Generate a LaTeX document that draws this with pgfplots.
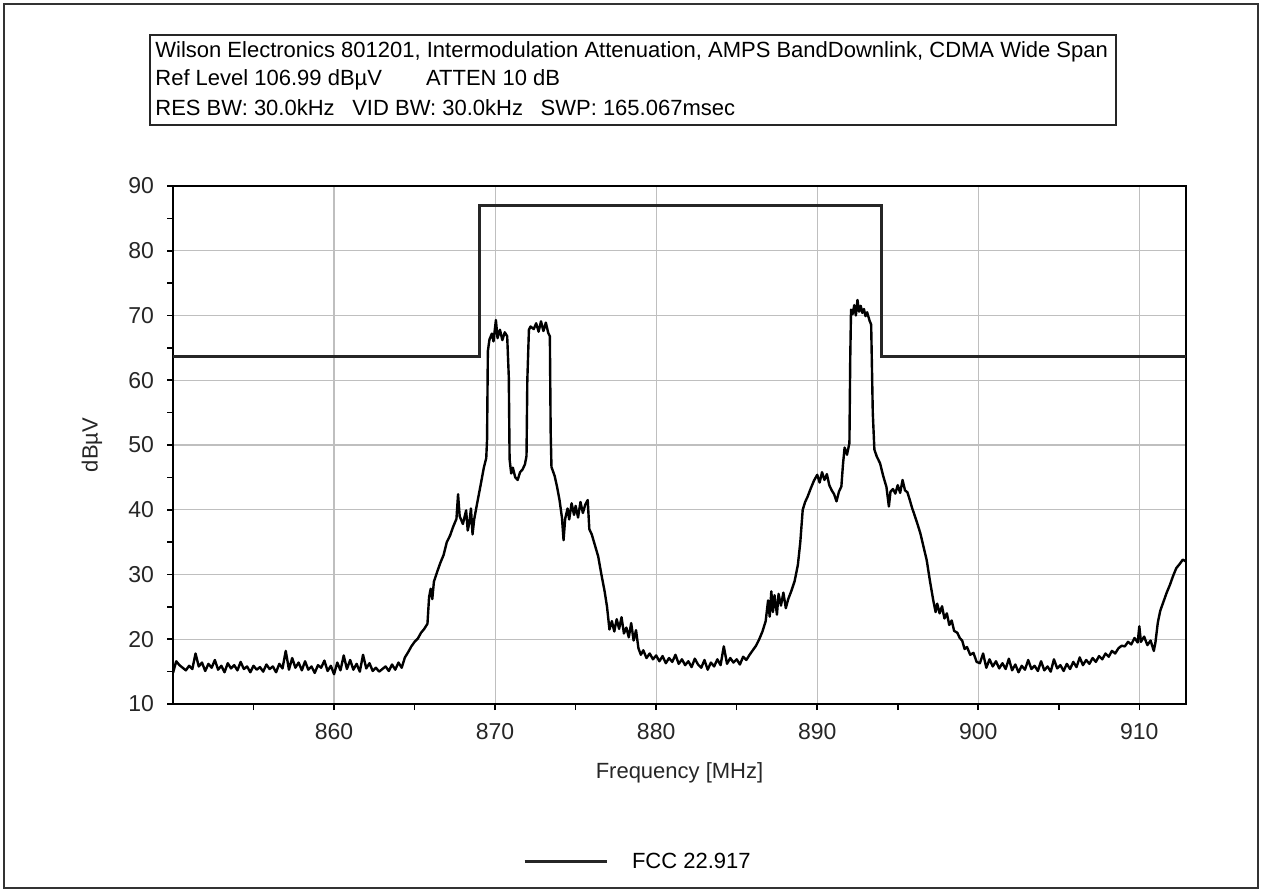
\documentclass[border=0pt]{standalone}
\usepackage{pgfplots}
\pgfplotsset{compat=1.18}
\usepackage{pgfplotstable}
\usepackage{fontspec}
\setmainfont{Liberation Sans}

% spectrum trace: frequency [MHz], level [dBuV]
\pgfplotstableread{
f v
850.0 14.8
850.2 16.6
850.4 16.0
850.6 15.6
850.8 15.2
851.0 15.9
851.2 15.4
851.4 17.8
851.6 15.8
851.8 16.4
852.0 15.1
852.2 16.2
852.4 15.6
852.6 16.8
852.8 15.3
853.0 15.9
853.2 14.9
853.4 16.3
853.6 15.5
853.8 16.0
854.0 15.2
854.2 16.5
854.4 15.4
854.6 15.8
854.8 14.9
855.0 15.9
855.2 15.3
855.4 15.7
855.6 15.0
855.8 16.1
856.0 15.4
856.2 15.8
856.4 14.9
856.6 16.2
856.8 15.5
857.0 18.2
857.2 15.3
857.4 17.1
857.6 15.6
857.8 16.4
858.0 15.2
858.2 16.6
858.4 15.3
858.6 15.8
858.8 14.8
859.0 16.0
859.2 15.6
859.4 16.7
859.6 15.1
859.8 15.9
860.0 14.6
860.2 16.4
860.4 15.2
860.6 17.5
860.8 15.4
861.0 16.8
861.2 15.3
861.4 16.2
861.6 15.0
861.8 17.6
862.0 15.5
862.2 16.3
862.4 15.1
862.6 15.6
862.8 15.0
863.0 15.4
863.2 15.8
863.4 15.1
863.6 16.1
863.8 15.3
864.0 16.4
864.2 15.6
864.4 17.2
864.6 18.0
864.8 18.9
865.0 19.6
865.2 20.1
865.4 21.0
865.6 21.6
865.8 22.4
865.9 26.5
866.0 27.8
866.1 26.2
866.2 28.9
866.4 30.4
866.6 31.8
866.8 33.0
867.0 35.0
867.2 36.0
867.4 37.4
867.6 38.6
867.7 42.4
867.8 39.0
868.0 37.8
868.2 39.9
868.3 36.8
868.4 38.0
868.5 40.2
868.6 36.2
868.7 38.5
868.9 41.2
869.1 43.8
869.3 46.5
869.45 48.0
869.5 50.8
869.55 64.5
869.65 66.3
869.8 67.2
869.9 66.0
870.05 69.3
870.15 66.5
870.3 67.8
870.45 66.2
870.6 67.4
870.75 66.8
870.85 60.5
870.9 47.8
871.0 45.6
871.1 46.5
871.25 45.0
871.4 44.6
871.55 45.8
871.7 46.2
871.85 47.0
871.95 48.3
872.0 60.0
872.1 67.8
872.2 68.3
872.4 67.9
872.55 68.8
872.7 67.5
872.85 69.1
873.0 67.6
873.15 68.9
873.3 67.3
873.4 66.8
873.45 52.0
873.5 46.6
873.7 45.2
873.85 43.5
874.0 41.5
874.15 38.8
874.25 35.3
874.35 38.6
874.5 40.2
874.6 38.5
874.75 41.0
874.9 39.2
875.0 40.6
875.15 38.8
875.3 41.2
875.45 39.5
875.6 40.8
875.75 41.5
875.85 37.0
876.0 36.2
876.2 34.5
876.4 32.8
876.6 30.0
876.8 27.4
876.95 25.0
877.1 21.5
877.25 22.8
877.4 21.2
877.55 23.1
877.7 21.6
877.85 23.4
878.0 20.9
878.15 21.8
878.3 20.3
878.45 22.5
878.6 19.8
878.75 21.4
878.9 18.6
879.05 17.6
879.2 18.3
879.4 17.1
879.6 17.8
879.8 16.9
880.0 17.5
880.2 16.6
880.4 17.4
880.6 16.3
880.8 17.1
881.0 16.5
881.2 17.6
881.4 16.2
881.6 16.9
881.8 16.0
882.0 16.6
882.2 15.7
882.4 17.0
882.6 16.1
882.8 15.6
883.0 16.8
883.2 15.3
883.4 16.4
883.6 15.8
883.8 16.9
884.0 16.0
884.2 18.9
884.4 16.2
884.6 17.1
884.8 16.4
885.0 16.9
885.2 16.1
885.4 17.3
885.6 16.8
885.8 17.6
886.0 18.3
886.2 19.0
886.4 20.0
886.6 21.2
886.8 22.8
886.95 26.0
887.05 23.5
887.15 27.4
887.25 24.2
887.35 26.8
887.5 23.8
887.6 27.0
887.75 25.2
887.9 27.2
888.05 24.8
888.2 26.2
888.4 27.5
888.6 29.0
888.8 31.5
888.95 35.0
889.1 40.0
889.25 41.2
889.4 42.0
889.6 43.3
889.8 44.5
890.0 45.4
890.15 44.2
890.3 45.8
890.45 44.6
890.6 45.5
890.75 43.8
890.9 43.0
891.05 42.4
891.2 41.3
891.35 42.8
891.5 43.6
891.6 47.0
891.7 49.6
891.85 48.5
892.0 50.3
892.05 63.2
892.1 70.9
892.2 70.2
892.3 71.6
892.4 70.0
892.5 72.4
892.6 70.6
892.7 71.5
892.8 70.4
892.9 71.0
893.0 69.9
893.1 70.5
893.25 69.2
893.35 68.6
893.45 55.0
893.55 49.3
893.7 48.2
893.9 47.2
894.1 45.2
894.3 43.5
894.45 40.5
894.55 42.8
894.7 43.2
894.85 42.5
895.0 43.8
895.15 42.6
895.3 44.6
895.45 43.0
895.6 42.7
895.75 41.5
895.9 40.2
896.0 39.5
896.2 38.0
896.4 36.4
896.6 34.3
896.8 32.2
897.0 29.0
897.2 26.1
897.35 24.2
897.45 25.5
897.6 24.0
897.75 25.1
897.9 23.2
898.05 24.0
898.2 22.2
898.35 22.9
898.5 21.3
898.7 21.0
898.85 20.2
899.0 19.8
899.15 18.5
899.3 18.8
899.5 17.6
899.7 17.9
899.9 16.5
900.1 16.3
900.3 17.8
900.5 15.6
900.7 16.9
900.9 15.8
901.1 16.6
901.3 15.5
901.5 16.3
901.7 15.4
901.9 17.0
902.1 15.2
902.3 16.1
902.5 14.9
902.7 15.9
902.9 15.3
903.1 16.8
903.3 15.4
903.5 15.9
903.7 15.1
903.9 16.6
904.1 15.2
904.3 15.8
904.5 15.0
904.7 16.9
904.9 15.5
905.1 16.0
905.3 15.1
905.5 16.2
905.7 15.4
905.9 16.5
906.1 15.7
906.3 17.2
906.5 16.0
906.7 16.8
906.9 16.2
907.1 17.1
907.3 16.5
907.5 17.4
907.7 16.9
907.9 17.8
908.1 17.3
908.3 18.2
908.5 17.8
908.7 18.6
908.9 19.0
909.1 18.9
909.3 19.6
909.5 19.2
909.7 20.2
909.9 19.5
910.0 22.0
910.1 19.6
910.3 20.4
910.5 19.1
910.7 19.8
910.9 18.2
911.0 19.5
911.15 22.6
911.3 24.4
911.5 25.8
911.7 27.2
911.9 28.4
912.1 29.8
912.3 31.0
912.5 31.6
912.7 32.3
912.9 32.0
}\spectrum

% FCC 22.917 limit mask
\pgfplotstableread{
f v
850.0 63.6
869.0 63.6
869.0 87.0
894.0 87.0
894.0 63.6
912.9 63.6
}\fccmask

\begin{document}
\begin{tikzpicture}
\path[use as bounding box] (0,0) rectangle (633.5pt,447pt);
\draw[line width=1pt, black!80] (2pt,3pt) rectangle (629pt,445pt);

% header box
\draw[line width=0.8pt, black!85] (75pt,384.5pt) rectangle (558pt,429.5pt);
\begin{scope}[every node/.style={anchor=west, inner sep=0pt, font=\fontsize{11}{13}\selectfont}]
\node at (77.5pt,421pt) {Wilson Electronics 801201, Intermodulation Attenuation, AMPS BandDownlink, CDMA Wide Span};
\node at (77.5pt,407pt) {Ref Level 106.99 dBµV\hspace{2em}ATTEN 10 dB};
\node at (77.5pt,393pt) {RES BW: 30.0kHz\hspace{0.8em}VID BW: 30.0kHz\hspace{0.8em}SWP: 165.067msec};
\end{scope}

\begin{axis}[
  at={(86.5pt,95pt)}, anchor=south west,
  width=506.5pt, height=259pt, scale only axis,
  xmin=850, xmax=912.9, ymin=10, ymax=90,
  xtick={860,870,...,910}, minor xtick={855,865,...,905},
  ytick={10,20,...,90}, minor ytick={15,25,...,85},
  tick pos=left, tick align=outside,
  major tick length=3pt, minor tick length=3pt,
  every tick/.style={black, line width=0.8pt},
  grid=major, major grid style={black!25, line width=0.6pt},
  axis line style={black, line width=1pt},
  /pgf/number format/assume math mode=true,
  /pgf/number format/1000 sep={},
  ticklabel style={font=\fontsize{11.5}{13}\selectfont, text=black!85},
  xticklabel style={yshift=-3pt},
  yticklabel style={xshift=-3pt},
  xlabel={Frequency [MHz]},
  ylabel={dBµV},
  label style={font=\fontsize{11}{13}\selectfont, text=black!85},
  xlabel style={at={(axis description cs:0.5,-0.133)}, anchor=center},
  ylabel style={at={(axis description cs:-0.08,0.5)}, anchor=center},
  legend style={draw=none, fill=none, inner sep=0pt, outer sep=0pt,
    at={(0.3455,-0.305)}, anchor=west,
    font=\fontsize{11}{13}\selectfont},
  legend image code/.code={\draw[#1] (0pt,0pt) -- (41pt,0pt);},
]
\addplot[black, line width=1.2pt, line join=round, forget plot] table[x=f, y=v] {\spectrum};
\addplot[black!85, line width=1.5pt] table[x=f, y=v] {\fccmask};
\addlegendentry{\hspace{10pt}FCC 22.917}
\end{axis}
\end{tikzpicture}
\end{document}
